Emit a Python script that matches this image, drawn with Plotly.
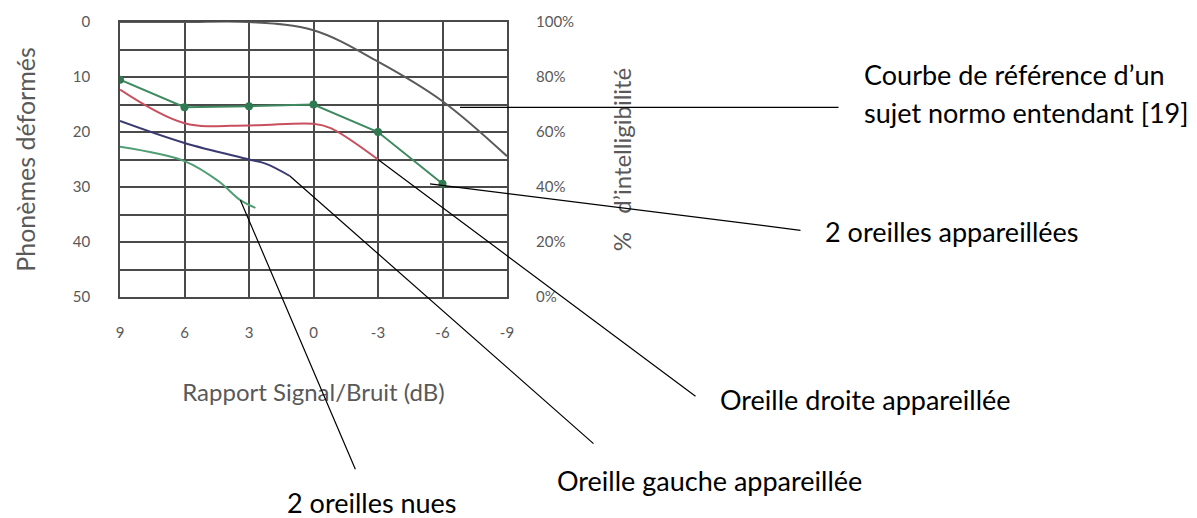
import plotly.graph_objects as go

# --- data (x = rapport signal/bruit en dB, y = phonèmes déformés) ---
snr_ticks = [9, 6, 3, 0, -3, -6, -9]
snr_ticktext = ["9", "6", "3", "0", "-3", "-6", "-9"]
phon_ticks = [0, 10, 20, 30, 40, 50]
intel_ticks = [0, 20, 40, 60, 80, 100]
intel_ticktext = ["0%", "20%", "40%", "60%", "80%", "100%"]

ref_x = [9, 6, 3, 0, -3, -6, -9]
ref_y = [0, 0, 0, 1.5, 7.2, 14.4, 24.4]

app2_x = [9, 6, 3, 0, -3, -6]
app2_y = [10.5, 15.5, 15.3, 15.0, 20.0, 29.4]

droite_x = [9, 6, 3, 0, -0.8, -3]
droite_y = [12.3, 18.4, 18.8, 18.5, 19.3, 25.0]

gauche_x = [9, 6, 3, 2.2, 1.1]
gauche_y = [18.0, 22.0, 25.0, 25.8, 28.0]

nues_x = [9, 6, 4.4, 3.4, 2.7]
nues_y = [22.7, 25.3, 29.0, 32.4, 33.8]

# plot box in pixels (1197x518 canvas)
L, R, T, B = 120, 507, 20, 297
W, H = 1197, 518


def dx(px):
    # pixel -> x data
    return 9 - (px - L) / (R - L) * 18


def dy(py):
    # pixel -> y data
    return (py - T) / (B - T) * 50


def pxp(px):
    return (px - L) / (R - L)


def pyp(py):
    return (B - py) / (B - T)


grid = "#4a4a4a"
txt = "#595959"
font = "Lato, 'Open Sans', sans-serif"

fig = go.Figure()

fig.add_trace(go.Scatter(x=ref_x, y=ref_y, mode="lines", line=dict(color="#5a5a5a", width=2, shape="spline"),
                         name="référence"))
fig.add_trace(go.Scatter(x=droite_x, y=droite_y, mode="lines", line=dict(color="#c8505e", width=2, shape="spline"),
                         name="droite"))
fig.add_trace(go.Scatter(x=gauche_x, y=gauche_y, mode="lines", line=dict(color="#3a3a70", width=2, shape="spline"),
                         name="gauche"))
fig.add_trace(go.Scatter(x=nues_x, y=nues_y, mode="lines", line=dict(color="#4f9e74", width=2, shape="spline"),
                         name="nues"))
fig.add_trace(go.Scatter(x=app2_x, y=app2_y, mode="lines+markers", line=dict(color="#3f8a60", width=2),
                         marker=dict(color="#2f7a50", size=8), name="2 appareillées"))
# dummy trace so the right axis is drawn
fig.add_trace(go.Scatter(x=[snr_ticks[0]], y=[None], yaxis="y2", showlegend=False, hoverinfo="skip"))

# leader lines
leaders = [
    # (head x, head y, tail pixel x, tail pixel y)
    (dx(460), dy(106), 840, 106),
    (dx(430), dy(183), 802, 230),
    (droite_x[-1], droite_y[-1], 697, 398),
    (gauche_x[-1], gauche_y[-1], 595, 446),
    (nues_x[3], nues_y[3], 356, 472),
]
for hx, hy, tx, ty in leaders:
    fig.add_annotation(x=hx, y=hy, ax=dx(tx), ay=dy(ty), axref="x", ayref="y", text="",
                       showarrow=True, arrowhead=0, arrowwidth=1.2, arrowcolor="black", standoff=0)

labels = [
    ("Courbe de référence d’un", 862, 73),
    ("sujet normo entendant [19]", 862, 111),
    ("2 oreilles appareillées", 823, 231),
    ("Oreille droite appareillée", 718, 400),
    ("Oreille gauche appareillée", 555, 482),
    ("2 oreilles nues", 285, 504),
]
for t, x, y in labels:
    fig.add_annotation(x=pxp(x), y=pyp(y), xref="paper", yref="paper", text=t, showarrow=False,
                       xanchor="left", yanchor="middle", font=dict(family=font, size=27, color="black"))

fig.update_layout(
    width=W, height=H,
    margin=dict(l=L, r=W - R, t=T, b=H - B),
    paper_bgcolor="white", plot_bgcolor="white",
    showlegend=False,
    font=dict(family=font, color=txt),
    xaxis=dict(range=[9, -9], tickvals=snr_ticks, ticktext=snr_ticktext, showgrid=True, gridcolor=grid,
               gridwidth=1.5, zeroline=False, showline=True, linecolor=grid, linewidth=1.5, mirror=True,
               ticks="", ticklabelstandoff=21, tickfont=dict(size=15, color=txt),
               title=dict(text="Rapport Signal/Bruit (dB)", font=dict(size=24, color=txt), standoff=44)),
    yaxis=dict(range=[50, 0], tickvals=phon_ticks, showgrid=True, gridcolor=grid, gridwidth=1.5,
               minor=dict(dtick=5, tick0=0, showgrid=True, gridcolor=grid, gridwidth=1.5),
               zeroline=False, showline=True, linecolor=grid, linewidth=1.5, mirror=True,
               ticks="", ticklabelstandoff=25, tickfont=dict(size=15, color=txt),
               title=dict(text="Phonèmes déformés", font=dict(size=25, color=txt), standoff=30)),
    yaxis2=dict(range=[0, 100], tickvals=intel_ticks, ticktext=intel_ticktext, overlaying="y", side="right",
                showgrid=False, zeroline=False, showline=False, ticks="", ticklabelstandoff=28,
                tickfont=dict(size=15, color=txt),
                title=dict(text="%   d’intelligibilité", font=dict(size=24, color=txt), standoff=41)),
)

# the page body has a default 8px margin; drop it so the figure sits at the corner
fig.write_html("out.html", config={"displayModeBar": False},
               post_script="document.body.style.margin = '0';")
